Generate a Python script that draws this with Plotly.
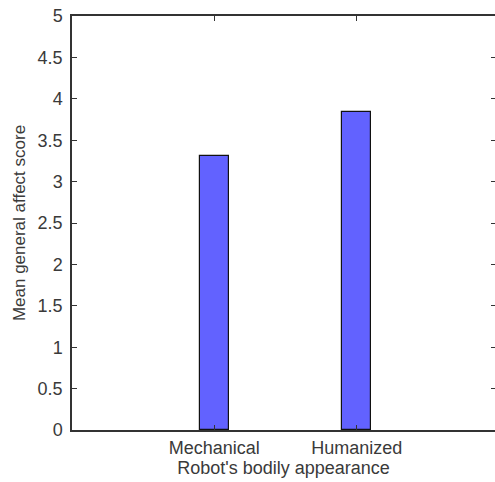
import plotly.graph_objects as go

categories = ["Mechanical", "Humanized"]
positions = [1, 2]
scores = [3.31, 3.84]
y_ticks = [0, 0.5, 1, 1.5, 2, 2.5, 3, 3.5, 4, 4.5, 5]
y_ticklabels = ["0", "0.5", "1", "1.5", "2", "2.5", "3", "3.5", "4", "4.5", "5"]

axis_color = "#333333"
font = dict(family="Liberation Sans, Arial, sans-serif", size=18, color="#3a3a3a")

fig = go.Figure()
fig.add_trace(go.Bar(
    x=positions, y=scores, width=0.2,
    marker=dict(color="#6262ff", line=dict(color="#111111", width=1.2)),
    showlegend=False, hoverinfo="skip",
))
# invisible trace for right-side ticks
fig.add_trace(go.Scatter(x=[None], y=[None], yaxis="y2", showlegend=False))

fig.update_layout(
    width=495, height=482,
    margin=dict(l=72, r=0, t=16, b=52),
    paper_bgcolor="white", plot_bgcolor="white",
    font=font,
    bargap=0,
    xaxis=dict(
        range=[0, 2.972], tickvals=positions, ticktext=categories,
        ticks="inside", ticklen=5, tickwidth=1.2, tickcolor=axis_color,
        showline=True, linecolor=axis_color, linewidth=1.5, mirror="ticks",
        showgrid=False, zeroline=False, ticklabelstandoff=1,
        title=dict(text="Robot's bodily appearance", standoff=2, font=font),
        tickfont=font,
        automargin=False,
    ),
    yaxis=dict(
        range=[0, 5], tickvals=y_ticks, ticktext=y_ticklabels,
        ticks="inside", ticklen=5, tickwidth=1.2, tickcolor=axis_color,
        showline=True, linecolor=axis_color, linewidth=1.5,
        showgrid=False, zeroline=False, ticklabelstandoff=4,
        title=dict(text="Mean general affect score", standoff=8,
                   font=dict(family=font["family"], size=17, color=font["color"])),
        tickfont=font,
        automargin=False,
    ),
    yaxis2=dict(
        range=[0, 5], tickvals=y_ticks, overlaying="y", side="right",
        ticks="inside", ticklen=4, tickwidth=1.2, tickcolor=axis_color,
        showline=False, showgrid=False, zeroline=False, showticklabels=False,
    ),
)

fig.write_html("out.html", config={"displayModeBar": False},
               post_script="document.body.style.margin='0';")
